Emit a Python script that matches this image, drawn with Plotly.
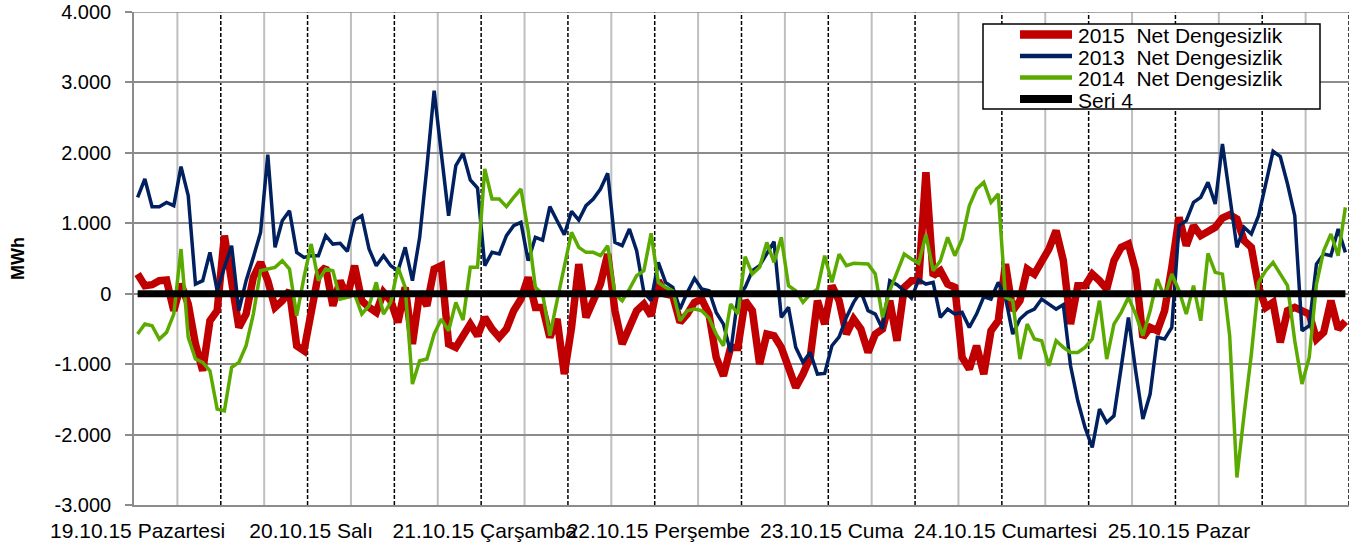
import plotly.graph_objects as go

# ---------------- data ----------------
day_labels = ["19.10.15 Pazartesi", "20.10.15 Salı", "21.10.15 Çarşamba", "22.10.15 Perşembe",
              "23.10.15 Cuma", "24.10.15 Cumartesi", "25.10.15 Pazar"]
day_positions = [0, 24, 48, 72, 96, 120, 144]

y_tick_vals = [-3000, -2000, -1000, 0, 1000, 2000, 3000, 4000]
y_tick_text = ["-3.000", "-2.000", "-1.000", "0", "1.000", "2.000", "3.000", "4.000"]

hours = list(range(168))

net_2015 = [279, 114, 128, 185, 194, -241, 137, -147, -715, -1094, -384, -241, 824, 185, -478, -289, 232, 445, 185, -194,
            -99, 43, -739, -810, -241, 279, 374, -170,
            185, -52, 398, -99, -194, -265, 19, -99, -407, 90, -715, 19, -170, 350, 398, -715, -762, -573, -431, -597,
            -336, -502, -620, -502, -241, -76, 232, -194,
            -194, -620, -360, -1141, -478, 421, -336, -99, 137, 563, -241, -715, -478, -241, -147, -313, 185, -5, -28, -407,
            -289, -123, -76, -289, -904, -1165, -762, -762,
            -99, -241, -999, -573, -597, -762, -1046, -1331, -1141, -904, -99, -431, 114, -99, -573, -360, -502, -833, -573, -502,
            -99, -668, 90, 185, 185, 1724, 256, 327,
            137, 90, -904, -1070, -739, -1141, -526, -384, 421, -241, -99, 350, 279, 469, 634, 895, 469, -431, 114, 114,
            279, 185, 66, 469, 658, 706, 327, -620,
            -478, -526, -241, 374, 1084, 682, 966, 824, 871, 942, 1075, 1122, 1061, 753, 658, 90, -194, -123, -691, -241,
            -194, -241, -289, -644, -549, -99, -502, -393]

net_2013 = [1368, 1629, 1236, 1236, 1297, 1250, 1804, 1392, 137, 185, 587, 43, 374, 682, -241, 185, 516, 871, 1975, 658,
            1037, 1179, 587, 516, 540, 540, 824, 705,
            715, 601, 1046, 1108, 634, 398, 540, 398, 327, 658, 185, 800, 1795, 2884, 1984, 1108, 1818, 1993, 1615, 1501,
            398, 587, 563, 824, 966, 1013, 469, 800,
            762, 1236, 1037, 838, 1170, 1046, 1250, 1345, 1487, 1709, 729, 682, 919, 611, 19, -99, 445, 161, 90, -218,
            19, 218, 66, 43, -265, -431, -833, -52,
            90, 327, 398, 563, 739, -336, -194, -762, -975, -833, -1141, -1132, -739, -611, -336, -123, 33, -241, -289, -502,
            185, 128, 43, -62, 199, 137, 161, -336,
            -218, -289, -265, -478, -289, -43, -76, 161, -52, -573, -360, -265, -218, -76, -147, -218, -156, -1023, -1520, -1899,
            -2183, -1638, -1828, -1733, -1046, -336, -1094, -1780,
            -1425, -620, -644, -478, 966, 1037, 1297, 1368, 1581, 1274, 2126, 1392, 658, 942, 848, 1108, 1558, 2022, 1946, 1558,
            1108, -526, -455, 421, 563, 540, 919, 587]

net_2014 = [-573, -431, -455, -644, -549, -289, 634, -620, -928, -975, -1094, -1638, -1662, -1046, -975, -739, -289, 327, 350, 374,
            469, 350, -313, 232, 706, 185, 350, 327,
            -76, -52, -5, -289, -170, 161, -289, -123, 374, 90, -1283, -952, -928, -573, -360, -526, -123, -374, 374, 374,
            1771, 1345, 1345, 1236, 1368, 1487, 895, 90,
            -5, -597, -99, 398, 871, 658, 587, 587, 540, 682, -5, -99, 66, 256, 327, 857, 161, 90, 43, -384,
            -241, -218, -241, -346, -573, -739, -147, -289,
            526, 279, 374, 729, 445, 800, 114, 43, -123, -5, 66, 540, 161, 563, 398, 431, 431, 421, 279, -336,
            43, 303, 563, 492, 431, 838, 327, 469,
            800, 540, 777, 1250, 1487, 1581, 1297, 1416, -52, -99, -928, -431, -644, -668, -1023, -668, -762, -833, -833, -762,
            -644, -99, -928, -431, -265, -52, -289, -597,
            -241, 208, -52, 279, 43, -289, 114, -384, 573, 303, 279, -597, -2609, -1709, -857, 161, 327, 445, 279, 114,
            -668, -1283, -904, 137, 611, 848, 540, 1226]

seri_4 = [0] * 168

series_names = ["2015  Net Dengesizlik", "2013  Net Dengesizlik", "2014  Net Dengesizlik", "Seri 4"]
series_colors = ["#C00000", "#002060", "#5BAA00", "#000000"]
series_widths = [7.5, 3.5, 3.5, 7]

# ---------------- figure ----------------
FONT = "Liberation Sans, Arial, sans-serif"
W, H = 1354, 550
L, R, T, B = 134, 5, 12, 45
PW, PH = W - L - R, H - T - B


def px_x(p):  # page pixel -> paper x
    return (p - L) / PW


def px_y(p):  # page pixel -> paper y
    return (H - B - p) / PH


fig = go.Figure()
for name, vals, col, wd in zip(series_names, [net_2015, net_2013, net_2014, seri_4], series_colors, series_widths):
    fig.add_trace(go.Scatter(x=hours, y=vals, mode="lines", name=name, showlegend=False,
                             line=dict(color=col, width=wd)))

# vertical grid: light grey every 6 hours, dashed black every 12 hours
shapes = []
for k in range(1, 29):
    xv = -0.5 + 6 * k
    if k % 2 == 1:
        shapes.append(dict(type="line", xref="x", yref="paper", x0=xv, x1=xv, y0=0, y1=1,
                           line=dict(color="#BFBFBF", width=2), layer="between"))
    else:
        shapes.append(dict(type="line", xref="x", yref="paper", x0=xv, x1=xv, y0=0, y1=1,
                           line=dict(color="#000000", width=1.5, dash="4px,2px"), layer="between"))

# top border line at the 4.000 level (same style as the horizontal grid)
shapes.append(dict(type="line", xref="paper", yref="y", x0=0, x1=1, y0=4000, y1=4000,
                   line=dict(color="#8C8C8C", width=1.5), layer="between"))

# legend box (drawn)
annotations = []
shapes.append(dict(type="rect", xref="paper", yref="paper", x0=px_x(983), x1=px_x(1320),
                   y0=px_y(109), y1=px_y(24), fillcolor="white",
                   line=dict(color="black", width=1.5), layer="above"))
legend_rows = [34.5, 56, 77.5, 99]
for name, col, wd, yy in zip(series_names, series_colors, series_widths, legend_rows):
    shapes.append(dict(type="line", xref="paper", yref="paper", x0=px_x(1020), x1=px_x(1072),
                       y0=px_y(yy), y1=px_y(yy), line=dict(color=col, width=wd + 1), layer="above"))
    annotations.append(dict(text=name, xref="paper", yref="paper", x=px_x(1076), y=px_y(yy + 1),
                            xanchor="left", yanchor="middle", showarrow=False,
                            font=dict(family=FONT, size=21, color="black")))

annotations.append(dict(text="<b>MWh</b>", xref="paper", yref="paper",
                        x=px_x(18), y=px_y(258), xanchor="center", yanchor="middle",
                        textangle=-90, showarrow=False,
                        font=dict(family=FONT, size=18, color="black")))

fig.update_layout(
    width=W, height=H,
    margin=dict(l=L, r=R, t=T, b=B, autoexpand=False),
    paper_bgcolor="white", plot_bgcolor="white",
    font=dict(family=FONT, size=20, color="black"),
    shapes=shapes,
    annotations=annotations,
    showlegend=False,
)

fig.update_xaxes(range=[-0.5, 167.5], tickvals=day_positions, ticktext=day_labels, tickangle=0,
                 automargin=False, showgrid=False, zeroline=False, showline=True,
                 linecolor="#8C8C8C", linewidth=1.5, ticks="", ticklabelstandoff=6,
                 ticklabeloverflow="allow",
                 tickfont=dict(family=FONT, size=21, color="black"))
fig.update_yaxes(range=[-3000, 4000], tickvals=y_tick_vals, ticktext=y_tick_text,
                 automargin=False, showgrid=True, gridcolor="#8C8C8C", gridwidth=1.5, zeroline=False,
                 showline=True, mirror=False, linecolor="#8C8C8C", linewidth=1.5,
                 ticks="outside", ticklen=7, tickcolor="#8C8C8C", tickwidth=1.5, ticklabelstandoff=10,
                 ticklabeloverflow="allow",
                 tickfont=dict(family=FONT, size=20, color="black"))

# remove the default page margin so the figure sits at the page's top-left corner
fig.write_html("out.html",
               config={"displayModeBar": False},
               post_script="document.body.style.margin='0';document.body.style.padding='0';")
